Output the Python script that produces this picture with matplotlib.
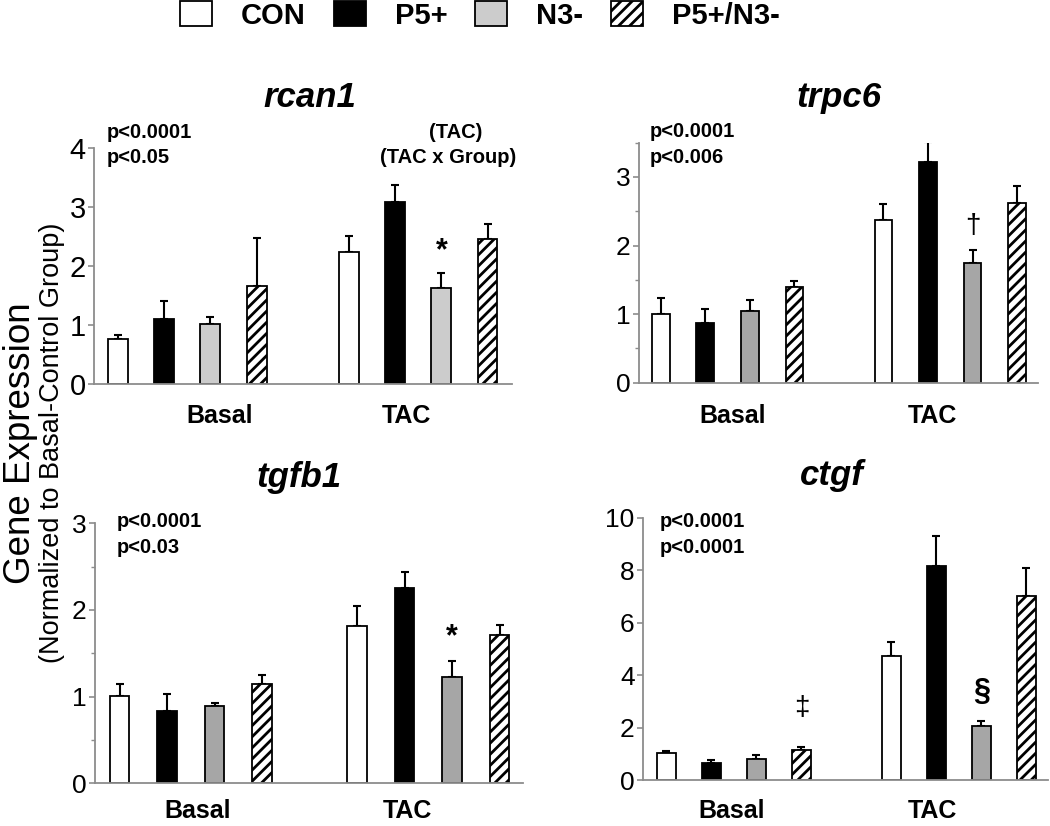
import matplotlib
matplotlib.use("Agg")
import matplotlib.pyplot as plt
from matplotlib.patches import Patch
from matplotlib import font_manager
import numpy as np

W, H = 1050, 826

# ---------------- data ----------------
groups = ["CON", "P5+", "N3-", "P5+/N3-"]
conditions = ["Basal", "TAC"]
genes = ["rcan1", "trpc6", "tgfb1", "ctgf"]

rcan1_basal = [0.76, 1.10, 1.02, 1.66]
rcan1_basal_err = [0.07, 0.31, 0.12, 0.81]
rcan1_tac = [2.23, 3.08, 1.62, 2.45]
rcan1_tac_err = [0.28, 0.29, 0.26, 0.27]

trpc6_basal = [1.00, 0.87, 1.05, 1.40]
trpc6_basal_err = [0.24, 0.20, 0.15, 0.09]
trpc6_tac = [2.38, 3.22, 1.75, 2.62]
trpc6_tac_err = [0.22, 0.29, 0.18, 0.25]

tgfb1_basal = [1.01, 0.83, 0.89, 1.15]
tgfb1_basal_err = [0.14, 0.20, 0.04, 0.10]
tgfb1_tac = [1.81, 2.25, 1.23, 1.71]
tgfb1_tac_err = [0.24, 0.19, 0.18, 0.12]

ctgf_basal = [1.04, 0.66, 0.81, 1.15]
ctgf_basal_err = [0.08, 0.10, 0.13, 0.12]
ctgf_tac = [4.71, 8.17, 2.07, 7.03]
ctgf_tac_err = [0.57, 1.15, 0.19, 1.07]

p_values = {
    "rcan1": ["p<0.0001", "p<0.05"],
    "trpc6": ["p<0.0001", "p<0.006"],
    "tgfb1": ["p<0.0001", "p<0.03"],
    "ctgf": ["p<0.0001", "p<0.0001"],
}
effect_labels = ["(TAC)", "(TAC x Group)"]

yticks = {
    "rcan1": [0, 1, 2, 3, 4],
    "trpc6": [0, 1, 2, 3],
    "tgfb1": [0, 1, 2, 3],
    "ctgf": [0, 2, 4, 6, 8, 10],
}
yminor = {
    "rcan1": [],
    "trpc6": [0.5, 1.5, 2.5, 3.5],
    "tgfb1": [0.5, 1.5, 2.5],
    "ctgf": [],
}
ylims = {"rcan1": 4, "trpc6": 3.5, "tgfb1": 3, "ctgf": 10}

# ---------------- style ----------------
available = {f.name for f in font_manager.fontManager.ttflist}
SANS = "Liberation Sans" if "Liberation Sans" in available else "DejaVu Sans"
plt.rcParams["font.family"] = [SANS, "DejaVu Sans"]
plt.rcParams["hatch.linewidth"] = 2.0

WHITE = "#ffffff"
BLACK = "#000000"
LIGHT = "#cccccc"
MID = "#a6a6a6"
AXC = "#8c8c8c"

def px(x, y):
    return x / W, 1 - y / H

fig = plt.figure(figsize=(W / 100, H / 100), dpi=100)

# axes boxes in pixels: left, right, y_zero, y_top
boxes = {
    "rcan1": (94, 512, 384, 148),
    "trpc6": (639, 1038, 382.7, 142.7),
    "tgfb1": (95, 523, 783.3, 523.3),
    "ctgf": (643, 1048, 780, 517.7),
}
xlims = {
    "rcan1": (-0.52, 8.53),
    "trpc6": (-0.49, 8.47),
    "tgfb1": (-0.52, 8.49),
    "ctgf": (-0.52, 8.48),
}
barw = {"rcan1": 0.43, "trpc6": 0.40, "tgfb1": 0.41, "ctgf": 0.42}
n3_color = {"rcan1": LIGHT, "trpc6": MID, "tgfb1": MID, "ctgf": MID}
tick_fs = {"rcan1": 21, "trpc6": 19, "tgfb1": 19, "ctgf": 19}

series = {
    "rcan1": (rcan1_basal, rcan1_basal_err, rcan1_tac, rcan1_tac_err),
    "trpc6": (trpc6_basal, trpc6_basal_err, trpc6_tac, trpc6_tac_err),
    "tgfb1": (tgfb1_basal, tgfb1_basal_err, tgfb1_tac, tgfb1_tac_err),
    "ctgf": (ctgf_basal, ctgf_basal_err, ctgf_tac, ctgf_tac_err),
}

# p-value text anchors (axes fraction): x, y line1, y line2
ptext = {
    "rcan1": (0.031, 1.042, 0.936),
    "trpc6": (0.028, 1.025, 0.915),
    "tgfb1": (0.051, 0.986, 0.886),
    "ctgf": (0.042, 0.965, 0.865),
}
titles_px = {
    "rcan1": (310, 107),
    "trpc6": (839, 107),
    "tgfb1": (299, 487),
    "ctgf": (832, 485),
}
group_label_px = {
    "rcan1": ((220, 423), (406, 423)),
    "trpc6": ((733, 423), (932, 423)),
    "tgfb1": ((198, 818), (407, 818)),
    "ctgf": ((732, 818), (932, 818)),
}
# significance marks: (x data, y data, symbol, bold)
marks = {
    "rcan1": [(7, 2.25, "*", True)],
    "trpc6": [(7, 2.28, "†", False)],
    "tgfb1": [(7, 1.68, "*", True)],
    "ctgf": [(3, 2.75, "‡", False), (7, 3.35, "§", True)],
}

hatches = [None, None, None, "///"]

for g in genes:
    l, r, y0, yt = boxes[g]
    ax = fig.add_axes([l / W, 1 - y0 / H, (r - l) / W, (y0 - yt) / H])
    b, be, t, te = series[g]
    colors = [WHITE, BLACK, n3_color[g], WHITE]
    pos_b = np.arange(4)
    pos_t = np.arange(4) + 5
    for positions, vals, errs in ((pos_b, b, be), (pos_t, t, te)):
        for i in range(4):
            ax.bar(positions[i], vals[i], width=barw[g], color=colors[i],
                   edgecolor=BLACK, linewidth=1.3, hatch=hatches[i], zorder=3)
        ax.errorbar(positions, vals, yerr=[np.zeros(4), errs], fmt="none",
                    ecolor=BLACK, elinewidth=1.5, capsize=2.8, capthick=1.5,
                    zorder=2)
    ax.set_xlim(*xlims[g])
    ax.set_ylim(0, ylims[g])
    ax.set_yticks(yticks[g])
    ax.set_yticks(yminor[g], minor=True)
    ax.set_xticks([])
    for s in ("top", "right"):
        ax.spines[s].set_visible(False)
    for s in ("left", "bottom"):
        ax.spines[s].set_color(AXC)
        ax.spines[s].set_linewidth(1.3)
    ax.spines["bottom"].set_zorder(4)
    ax.tick_params(axis="y", which="major", direction="out", length=4,
                   width=1.2, color=AXC, labelsize=tick_fs[g], pad=2,
                   labelcolor=BLACK)
    ax.tick_params(axis="y", which="minor", direction="out", length=3,
                   width=1.0, color=AXC)
    ax.patch.set_alpha(0)

    xp, y1, y2 = ptext[g]
    ax.text(xp, y1, p_values[g][0], transform=ax.transAxes, fontsize=14.5,
            fontweight="bold", va="baseline", ha="left")
    ax.text(xp, y2, p_values[g][1], transform=ax.transAxes, fontsize=14.5,
            fontweight="bold", va="baseline", ha="left")
    if g == "rcan1":
        ax.text(0.866, 1.042, effect_labels[0], transform=ax.transAxes,
                fontsize=14.5, fontweight="bold", va="baseline", ha="center")
        ax.text(0.846, 0.936, effect_labels[1], transform=ax.transAxes,
                fontsize=14.5, fontweight="bold", va="baseline", ha="center")

    for mx, my, sym, bold in marks[g]:
        ax.text(mx, my, sym, fontsize=22 if bold else 20,
                fontweight="bold" if bold else "normal",
                ha="center", va="center", zorder=5)

    tx, ty = titles_px[g]
    fig.text(*px(tx, ty), g, fontsize=25, fontweight="bold", style="italic",
             ha="center", va="baseline")
    for (lx, ly), cond in zip(group_label_px[g], conditions):
        fig.text(*px(lx, ly), cond, fontsize=18, fontweight="bold",
                 ha="center", va="baseline")

# y labels
fig.text(*px(20, 443), "Gene Expression", fontsize=26.5, rotation=90,
         ha="center", va="center")
fig.text(*px(52, 443), "(Normalized to Basal-Control Group)", fontsize=19.5,
         rotation=90, ha="center", va="center")

# legend
legend_colors = [WHITE, BLACK, LIGHT, WHITE]
handles = [Patch(facecolor=c, edgecolor=BLACK, linewidth=1.3, hatch=h, label=lab)
           for c, h, lab in zip(legend_colors, hatches, groups)]
leg = fig.legend(handles=handles, loc="upper center", bbox_to_anchor=px(480, 1),
                 ncol=4, frameon=False, handlelength=1.1, handleheight=0.95,
                 handletextpad=1.0, columnspacing=0.95, borderpad=0.0,
                 borderaxespad=0.0,
                 prop={"family": SANS, "weight": "bold", "size": 21})

fig.savefig("out.png", dpi=100)
